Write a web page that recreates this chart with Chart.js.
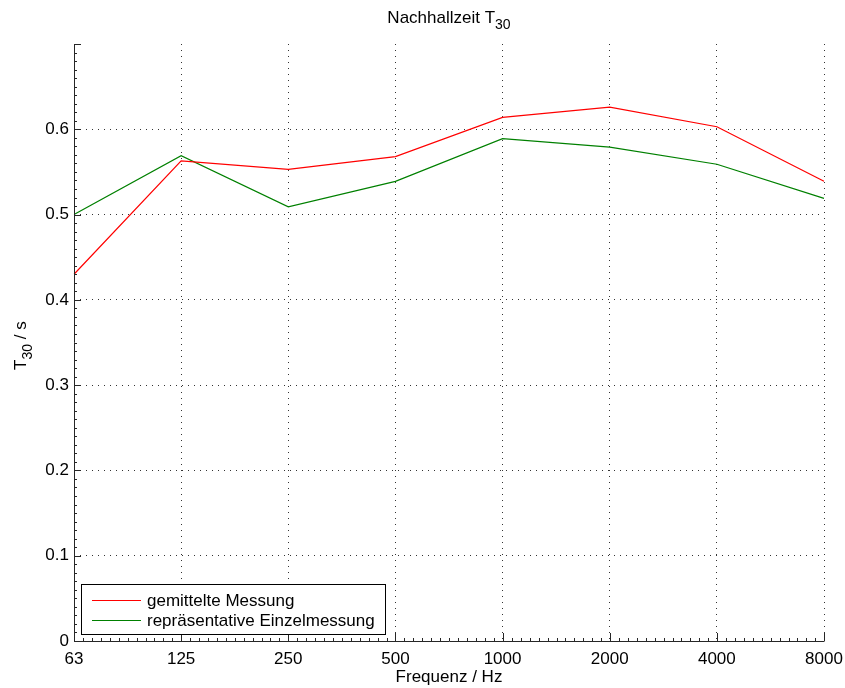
<!DOCTYPE html>
<html>
<head>
<meta charset="utf-8">
<script src="https://cdn.jsdelivr.net/npm/chart.js@4.4.0/dist/chart.umd.min.js"></script>
<style>
  html, body { margin: 0; padding: 0; background: #fff; }
  canvas { display: block; }
</style>
</head>
<body>
<canvas id="t30Chart" width="845" height="688"></canvas>
<script>
// octave band centre frequencies
const frequencies = ['63', '125', '250', '500', '1000', '2000', '4000', '8000'];
// reverberation time T30 in seconds
const averaged = [0.430, 0.563, 0.553, 0.568, 0.614, 0.626, 0.603, 0.539];
const single = [0.500, 0.569, 0.509, 0.539, 0.589, 0.579, 0.559, 0.519];
const yTicks = [0, 0.1, 0.2, 0.3, 0.4, 0.5, 0.6];

const FONT = '"Liberation Sans", Arial, Helvetica, sans-serif';

// text with a subscript part, e.g. T30
function drawSub(ctx, base, sub, x, y, size, align) {
  ctx.font = size + 'px ' + FONT;
  const wb = ctx.measureText(base).width;
  ctx.font = Math.round(size * 0.8) + 'px ' + FONT;
  const ws = ctx.measureText(sub).width;
  let x0 = x;
  if (align === 'center') x0 = x - (wb + ws) / 2;
  ctx.textAlign = 'left';
  ctx.textBaseline = 'alphabetic';
  ctx.font = size + 'px ' + FONT;
  ctx.fillText(base, x0, y);
  ctx.font = Math.round(size * 0.8) + 'px ' + FONT;
  ctx.fillText(sub, x0 + wb, y + size * 0.38);
  return wb + ws;
}

const decorations = {
  id: 'decorations',
  afterDraw(chart) {
    const ctx = chart.ctx;
    const xs = chart.scales.x;
    const ys = chart.scales.y;
    const area = chart.chartArea;
    ctx.save();
    ctx.setLineDash([]);
    ctx.strokeStyle = '#262626';
    ctx.lineWidth = 1;
    ctx.beginPath();
    // axis lines (left and bottom only)
    ctx.moveTo(area.left + 0.5, area.top);
    ctx.lineTo(area.left + 0.5, area.bottom + 0.5);
    ctx.lineTo(area.right + 0.5, area.bottom + 0.5);
    // inward ticks on the y axis: major every 0.1, minor every 0.01
    for (let i = 0; i <= 70; i++) {
      const py = Math.round(ys.getPixelForValue(i / 100)) + 0.5;
      const len = i % 10 === 0 ? 7 : 3;
      ctx.moveTo(area.left, py);
      ctx.lineTo(area.left + len, py);
    }
    // inward ticks on the x axis
    const sub = 12;
    for (let i = 0; i < frequencies.length; i++) {
      const px = Math.round(xs.getPixelForValue(i)) + 0.5;
      ctx.moveTo(px, area.bottom);
      ctx.lineTo(px, area.bottom - 8);
      if (i < frequencies.length - 1) {
        const next = xs.getPixelForValue(i + 1);
        for (let k = 1; k < sub; k++) {
          const mx = Math.round(px + (next - px) * k / sub) + 0.5;
          ctx.moveTo(mx, area.bottom);
          ctx.lineTo(mx, area.bottom - 3);
        }
      }
    }
    ctx.stroke();

    // titles
    ctx.fillStyle = '#000';
    drawSub(ctx, 'Nachhallzeit T', '30', 449, 23, 17, 'center');
    ctx.font = '17px ' + FONT;
    ctx.textAlign = 'center';
    ctx.textBaseline = 'alphabetic';
    ctx.fillText('Frequenz / Hz', 449, 682);
    ctx.save();
    ctx.translate(26, 345);
    ctx.rotate(-Math.PI / 2);
    const w = drawSub(ctx, 'T', '30', -25, 0, 17, 'left');
    ctx.font = '17px ' + FONT;
    ctx.textAlign = 'left';
    ctx.fillText(' / s', -25 + w, 0);
    ctx.restore();

    // legend box
    const lx = 81, ly = 584, lw = 304, lh = 50;
    ctx.fillStyle = '#fff';
    ctx.fillRect(lx, ly, lw, lh);
    ctx.strokeStyle = '#000';
    ctx.lineWidth = 1;
    ctx.strokeRect(lx + 0.5, ly + 0.5, lw, lh);
    chart.data.datasets.forEach((ds, i) => {
      const cy = ly + 16 + i * 20;
      ctx.strokeStyle = ds.borderColor;
      ctx.beginPath();
      ctx.moveTo(lx + 11, cy + 0.5);
      ctx.lineTo(lx + 60, cy + 0.5);
      ctx.stroke();
      ctx.fillStyle = '#000';
      ctx.font = '17px ' + FONT;
      ctx.textAlign = 'left';
      ctx.textBaseline = 'middle';
      ctx.fillText(ds.label, lx + 66, cy + 1);
    });
    ctx.restore();
  }
};

new Chart(document.getElementById('t30Chart'), {
  type: 'line',
  data: {
    labels: frequencies,
    datasets: [
      {
        label: 'gemittelte Messung',
        data: averaged,
        borderColor: '#ff0000',
        borderWidth: 1.2,
        pointRadius: 0,
        tension: 0
      },
      {
        label: 'repräsentative Einzelmessung',
        data: single,
        borderColor: '#008000',
        borderWidth: 1.2,
        pointRadius: 0,
        tension: 0
      }
    ]
  },
  plugins: [decorations],
  options: {
    responsive: false,
    animation: false,
    layout: { padding: { left: 0, right: 21, top: 44, bottom: 0 } },
    plugins: {
      legend: { display: false },
      title: { display: false },
      tooltip: { enabled: false }
    },
    scales: {
      x: {
        type: 'category',
        offset: false,
        border: { display: false, dash: [1, 5] },
        grid: {
          drawTicks: false,
          color: (c) => (c.index === 0 ? 'rgba(0,0,0,0)' : '#333'),
          lineWidth: 1
        },
        ticks: {
          padding: 8,
          maxRotation: 0,
          autoSkip: false,
          color: '#000',
          font: { family: FONT, size: 17 }
        },
        afterFit(scale) {
          scale.height = 47;
          scale.paddingLeft = 0;
          scale.paddingRight = 0;
        }
      },
      y: {
        min: 0,
        max: 0.7,
        border: { display: false, dash: [1, 5] },
        grid: {
          drawTicks: false,
          color: (c) => (c.tick && (c.tick.value === 0 || c.tick.value > 0.65) ? 'rgba(0,0,0,0)' : '#333'),
          lineWidth: 1
        },
        ticks: {
          stepSize: 0.1,
          padding: 5,
          color: '#000',
          font: { family: FONT, size: 17 },
          callback: (v) => {
            const t = yTicks.find((k) => Math.abs(k - v) < 1e-6);
            return t === undefined ? '' : (t === 0 ? '0' : t.toFixed(1));
          }
        },
        afterFit(scale) { scale.width = 74; }
      }
    }
  }
});
</script>
</body>
</html>
